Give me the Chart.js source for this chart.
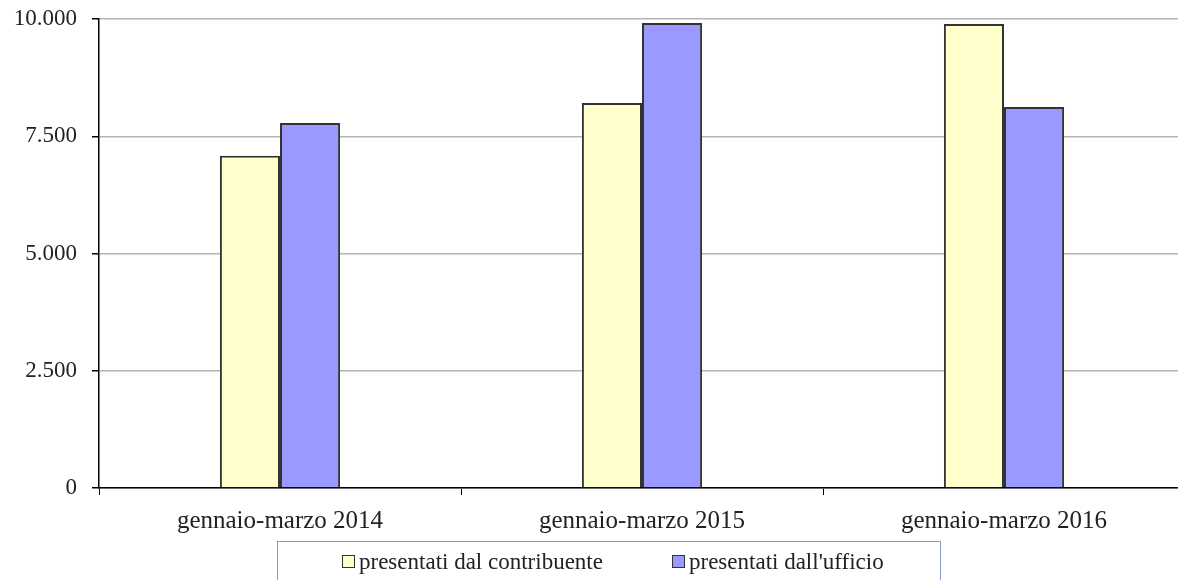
<!DOCTYPE html>
<html>
<head>
<meta charset="utf-8">
<script src="https://cdn.jsdelivr.net/npm/chart.js@4.4.1/dist/chart.umd.min.js"></script>
<style>
  html, body { margin: 0; padding: 0; background: #fff; overflow: hidden; }
  #wrap { position: relative; width: 1186px; height: 580px; }
</style>
</head>
<body>
<div id="wrap"><canvas id="chart"></canvas></div>
<script>
const categories = ["gennaio-marzo 2014", "gennaio-marzo 2015", "gennaio-marzo 2016"];
const seriesNames = ["presentati dal contribuente", "presentati dall'ufficio"];
const contribuente = [7085, 8210, 9893];
const ufficio = [7785, 9915, 8125];
const yTicks = [0, 2500, 5000, 7500, 10000];

const FONT = "'Liberation Serif', 'Times New Roman', serif";
const colors = ["#ffffcc", "#9999ff"];

// numeri all'italiana: 10.000
const fmt = (n) => String(n).replace(/\B(?=(\d{3})+(?!\d))/g, ".");

// legenda con cornice, disegnata a mano
const boxLegend = {
  id: "boxLegend",
  afterDraw(chart, args, opts) {
    const ctx = chart.ctx;
    ctx.save();
    ctx.strokeStyle = "#7f9fd3";
    ctx.lineWidth = 1;
    ctx.strokeRect(277.5, 541.5, 663, 60);
    ctx.font = "23px " + FONT;
    ctx.textBaseline = "alphabetic";
    chart.data.datasets.forEach((ds, i) => {
      const x = opts.xs[i];
      ctx.fillStyle = ds.backgroundColor;
      ctx.fillRect(x + 0.5, 555.5, 12, 12);
      ctx.strokeStyle = "#333";
      ctx.strokeRect(x + 0.5, 555.5, 12, 12);
      ctx.fillStyle = "#222";
      ctx.fillText(ds.label, x + 17, 569);
    });
    ctx.restore();
  }
};

new Chart(document.getElementById("chart"), {
  type: "bar",
  data: {
    labels: categories,
    datasets: [
      { label: seriesNames[0], data: contribuente, backgroundColor: colors[0],
        borderColor: "#333", borderWidth: 2 },
      { label: seriesNames[1], data: ufficio, backgroundColor: colors[1],
        borderColor: "#333", borderWidth: 2 }
    ]
  },
  options: {
    responsive: true,
    maintainAspectRatio: false,
    animation: false,
    layout: { padding: { top: 19, right: 1, bottom: 0, left: 0 } },
    datasets: { bar: { categoryPercentage: 0.332, barPercentage: 1 } },
    plugins: {
      legend: { display: false },
      tooltip: { enabled: false },
      boxLegend: { xs: [342, 672] }
    },
    scales: {
      x: {
        afterFit: (s) => { s.height = 92; },
        grid: { offset: true, drawOnChartArea: false, drawTicks: true, tickLength: 7, tickColor: "#000" },
        border: { color: "#000", width: 1.5 },
        ticks: { color: "#222", font: { family: FONT, size: 25 }, padding: 11 }
      },
      y: {
        min: 0,
        max: 10000,
        afterFit: (s) => { s.width = 99; s.paddingTop = 0; s.paddingBottom = 0; },
        afterBuildTicks: (s) => { s.ticks = yTicks.map(v => ({ value: v })); },
        grid: { color: "#b4b4b4", lineWidth: 1.5, tickLength: 7, tickColor: "#000" },
        border: { color: "#000", width: 1.5 },
        ticks: { color: "#222", font: { family: FONT, size: 23 }, padding: 15, callback: (v) => fmt(v) }
      }
    }
  },
  plugins: [boxLegend]
});
</script>
</body>
</html>
